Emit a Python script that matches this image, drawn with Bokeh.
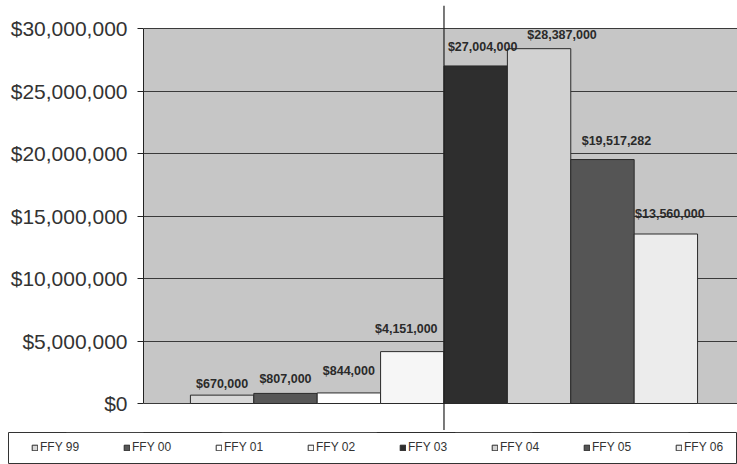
from bokeh.plotting import figure
from bokeh.layouts import column
from bokeh.models import (ColumnDataSource, Range1d, SingleIntervalTicker, NumeralTickFormatter,
                          LabelSet, Legend, LegendItem, Span, BoxAnnotation)
from bokeh.core.properties import value
from bokeh.embed import file_html
from bokeh.resources import INLINE

# ---- data ----
categories = ["FFY 99", "FFY 00", "FFY 01", "FFY 02", "FFY 03", "FFY 04", "FFY 05", "FFY 06"]
amounts = [670000, 807000, 844000, 4151000, 27004000, 28387000, 19517282, 13560000]
y_ticks_interval = 5000000
y_max = 30000000
divider_after = "FFY 02"

# ---- styles ----
bar_colors = ["#d8d8d8", "#575757", "#ffffff", "#f6f6f6", "#2e2e2e", "#d2d2d2", "#555555", "#ececec"]
label_dx = [0, 0, 0, -6, 7, 23, 14, 4]
label_dy = [7, 10, 18, 19, 15, 10, 15, 16]
FONT = "Liberation Sans"
PX_PER_UNIT = 375 / y_max          # 30M spans 375 px
TOP_PAD_PX, BOTTOM_PAD_PX = 23, 27  # frame extends beyond the 0..30M area

xs = list(range(len(categories)))
labels = ["${:,.0f}".format(a) for a in amounts]
src = ColumnDataSource(dict(x=xs, cat=categories, amt=amounts, color=bar_colors,
                            lab=labels, dx=label_dx, dy=label_dy))

p = figure(width=737, height=430, output_backend="svg", toolbar_location=None,
           x_range=Range1d(-1.24, 8.13),
           y_range=Range1d(-BOTTOM_PAD_PX / PX_PER_UNIT, y_max + TOP_PAD_PX / PX_PER_UNIT),
           min_border_left=143, min_border_right=0, min_border_top=5, min_border_bottom=0)
p.frame_align = False

p.background_fill_color = "white"
p.border_fill_color = "white"
p.outline_line_color = None

# grey plot-area background covering 0..y_max
p.add_layout(BoxAnnotation(bottom=0, top=y_max, fill_color="#c6c6c6", fill_alpha=1.0,
                           line_color=None, level="image"))

r = p.vbar(x="x", top="amt", width=1.0, bottom=0, source=src,
           fill_color="color", line_color="#2a2a2a", line_width=1)

p.xaxis.visible = False
p.xgrid.visible = False
p.ygrid.grid_line_color = "#3a3a3a"
p.ygrid.grid_line_width = 1

ax = p.yaxis[0]
ax.ticker = SingleIntervalTicker(interval=y_ticks_interval)
ax.formatter = NumeralTickFormatter(format="$0,0")
ax.bounds = (0, y_max)
ax.major_label_text_font = FONT
ax.major_label_text_font_size = "21px"
ax.major_label_text_color = "#333333"
ax.major_label_standoff = 10
ax.major_tick_out = 6
ax.major_tick_in = 0
ax.minor_tick_line_color = None
ax.axis_line_color = "#222222"
ax.major_tick_line_color = "#222222"

lbl = LabelSet(x="x", y="amt", text="lab", source=src, x_offset="dx", y_offset="dy",
               text_align="center", text_baseline="alphabetic",
               text_font=value(FONT), text_font_size="12.5px", text_font_style="bold",
               text_color="#2a2a2a")
p.add_layout(lbl)

# divider between FFY 02 and FFY 03
p.add_layout(Span(location=categories.index(divider_after) + 0.5, dimension="height",
                  line_color="#222222", line_width=1.2))

# ---- legend strip ----
lf = figure(width=737, height=34, output_backend="svg", toolbar_location=None,
            x_range=Range1d(-1.24, 8.13), y_range=Range1d(-2, -1),
            min_border_left=8, min_border_right=0, min_border_top=2, min_border_bottom=0)
lf.frame_align = False
lf.axis.visible = False
lf.grid.visible = False
lf.outline_line_color = "#333333"
lf.outline_line_width = 1
lf.background_fill_color = "white"
lr = lf.vbar(x="x", top="amt", width=1.0, bottom=0, source=src,
             fill_color="color", line_color="#2a2a2a", line_width=1)

items = [LegendItem(label=c, renderers=[lr], index=i) for i, c in enumerate(categories)]
legend = Legend(items=items, orientation="horizontal", location=(23, 10),
                glyph_width=7, glyph_height=7, label_standoff=2, label_width=40, label_height=12,
                spacing=43, padding=0, margin=0,
                label_text_font=FONT, label_text_font_size="12px", label_text_color="#333333",
                border_line_color=None, background_fill_alpha=0.0)
lf.add_layout(legend)

layout = column(p, lf, spacing=0)
open("out.html", "w").write(file_html(layout, INLINE))
